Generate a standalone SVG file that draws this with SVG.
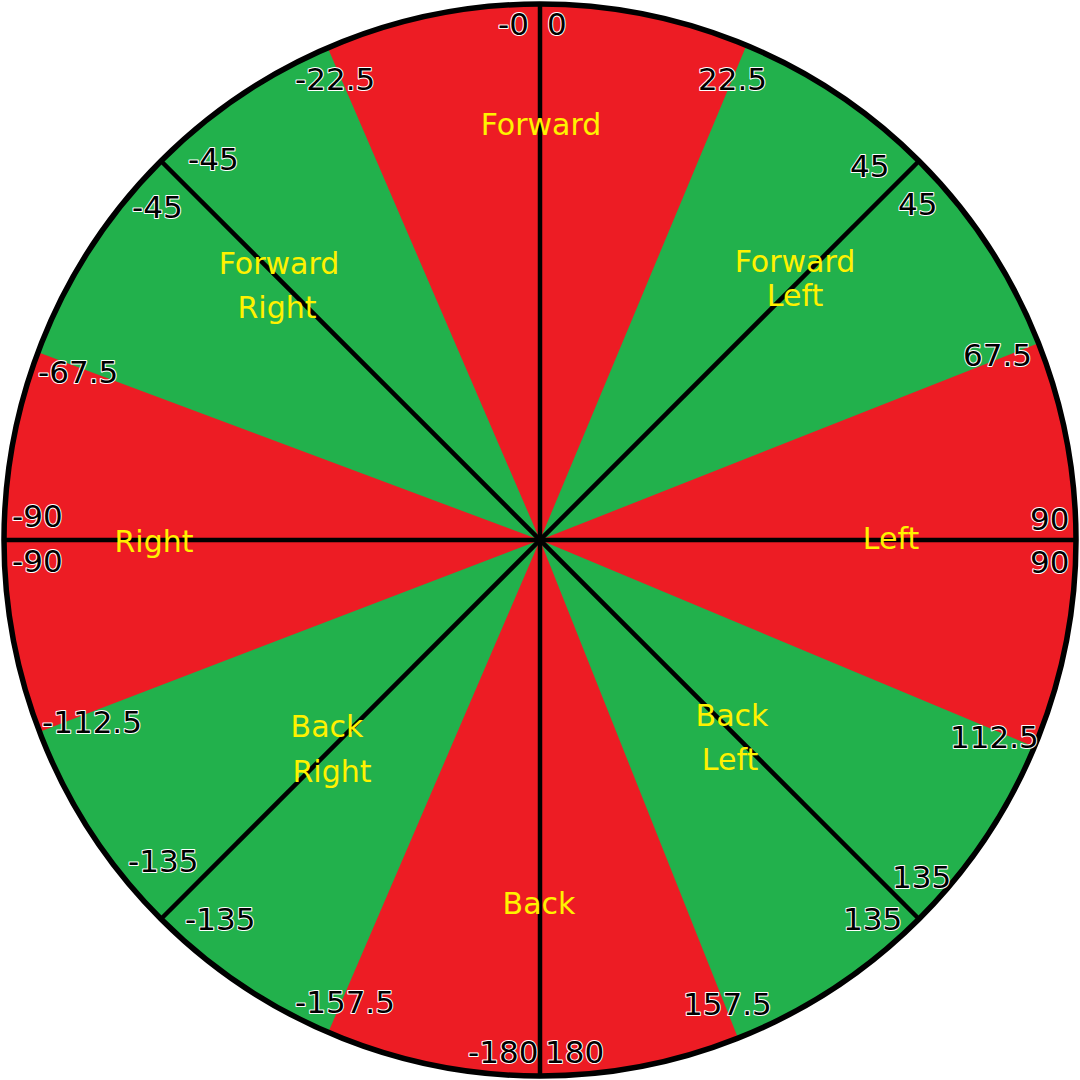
<svg xmlns="http://www.w3.org/2000/svg" width="1080" height="1080" viewBox="0 0 1080 1080">
<style>
.num{font-family:"DejaVu Sans","Liberation Sans",sans-serif;font-size:31px;fill:#000;stroke:#fff;stroke-width:2;paint-order:stroke;stroke-linejoin:round}
.lbl{font-family:"DejaVu Sans","Liberation Sans",sans-serif;font-size:30px;fill:#FFF200;text-anchor:middle}
.red{fill:#ED1C24}
.ln{stroke:#000;stroke-width:4.5;fill:none}
</style>
<defs>
<clipPath id="cc"><circle cx="540" cy="540" r="536"/></clipPath>
</defs>
<rect width="1080" height="1080" fill="#fff"/>
<g id="wheel">
<circle cx="540" cy="540" r="536" fill="#22B14C"/>
<g clip-path="url(#cc)">
<polygon class="red" points="540,540 305.7,-3.4 767.7,-5.6"/>
<polygon class="red" points="540,540 1088.9,323.3 1086.7,768.8"/>
<polygon class="red" points="540,540 757.8,1087.8 306.8,1082.3"/>
<polygon class="red" points="540,540 -11.1,751.2 -10,334.3"/>
</g>
</g>
<g id="connectors">
<line class="ln" x1="540" y1="4" x2="540" y2="1076"/>
<line class="ln" x1="4" y1="540" x2="1076" y2="540"/>
<line class="ln" x1="161" y1="161" x2="919" y2="919"/>
<line class="ln" x1="919" y1="161" x2="161" y2="919"/>
<circle cx="540" cy="540" r="536" fill="none" stroke="#000" stroke-width="5.5"/>
</g>
<g id="numbers">
<text class="num" x="498" y="35">-0</text>
<text class="num" x="547" y="35">0</text>
<text class="num" x="698" y="90">22.5</text>
<text class="num" x="295" y="90">-22.5</text>
<text class="num" x="850" y="177">45</text>
<text class="num" x="898" y="215">45</text>
<text class="num" x="188" y="170">-45</text>
<text class="num" x="132" y="218">-45</text>
<text class="num" x="963" y="366">67.5</text>
<text class="num" x="38" y="383">-67.5</text>
<text class="num" x="1030" y="530">90</text>
<text class="num" x="1030" y="573">90</text>
<text class="num" x="12" y="527">-90</text>
<text class="num" x="12" y="572">-90</text>
<text class="num" x="950" y="748">112.5</text>
<text class="num" x="42" y="733">-112.5</text>
<text class="num" x="892" y="888">135</text>
<text class="num" x="843" y="930">135</text>
<text class="num" x="128" y="872">-135</text>
<text class="num" x="185" y="930">-135</text>
<text class="num" x="683" y="1015">157.5</text>
<text class="num" x="295" y="1013">-157.5</text>
<text class="num" x="468" y="1063">-180</text>
<text class="num" x="545" y="1063">180</text>
</g>
<g id="labels">
<text class="lbl" x="541" y="135">Forward</text>
<text class="lbl" x="795" y="272">Forward</text>
<text class="lbl" x="795" y="306">Left</text>
<text class="lbl" x="279" y="274">Forward</text>
<text class="lbl" x="277" y="318">Right</text>
<text class="lbl" x="891" y="549">Left</text>
<text class="lbl" x="154" y="552">Right</text>
<text class="lbl" x="732" y="726">Back</text>
<text class="lbl" x="730" y="770">Left</text>
<text class="lbl" x="327" y="737">Back</text>
<text class="lbl" x="332" y="782">Right</text>
<text class="lbl" x="539" y="914">Back</text>
</g>
</svg>
